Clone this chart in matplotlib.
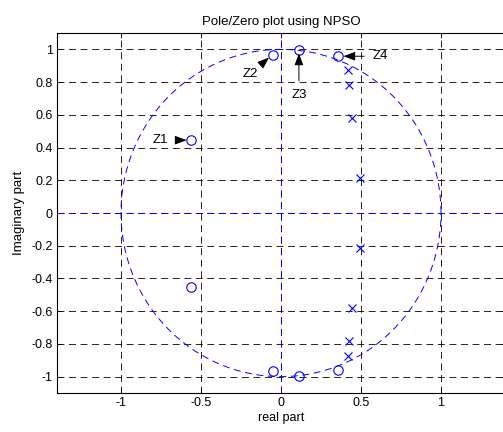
import numpy as np
import matplotlib
matplotlib.use("Agg")
import matplotlib.pyplot as plt

plt.rcParams['font.family'] = ['Liberation Sans', 'DejaVu Sans']
plt.rcParams['axes.unicode_minus'] = False
plt.rcParams['lines.scale_dashes'] = False

# Data
zeros_re = [-0.564, -0.564, -0.053, -0.053, 0.115, 0.115, 0.357, 0.357]
zeros_im = [0.445, -0.450, 0.967, -0.967, 0.998, -0.998, 0.958, -0.958]
poles_re = [0.421, 0.421, 0.424, 0.424, 0.446, 0.446, 0.491, 0.491]
poles_im = [0.873, -0.876, 0.780, -0.784, 0.580, -0.580, 0.215, -0.215]
xticks = [-1, -0.5, 0, 0.5, 1]
xticklabels = ['-1', '-0.5', '0', '0.5', '1']
yticks = [-1, -0.8, -0.6, -0.4, -0.2, 0, 0.2, 0.4, 0.6, 0.8, 1]
yticklabels = ['-1', '-0.8', '-0.6', '-0.4', '-0.2', '0', '0.2', '0.4', '0.6', '0.8', '1']
labels = ['Z1', 'Z2', 'Z3', 'Z4']
label_targets = [(-0.59, 0.445), (-0.075, 0.95), (0.112, 0.975), (0.39, 0.958)]
label_text_pos = [(-0.755, 0.445), (-0.19, 0.85), (0.112, 0.72), (0.62, 0.958)]

W, H = 503, 432
fig = plt.figure(figsize=(W / 100, H / 100), dpi=100)
ax = fig.add_axes([57 / W, 1 - 393 / H, (505 - 57) / W, (393 - 33) / H])

dash = (0, (5, 3.3))
ax.set_xlim(-1.4, 1.4)
ax.set_ylim(-1.1, 1.1)
ax.set_xticks(xticks)
ax.set_xticklabels(xticklabels)
ax.set_yticks(yticks)
ax.set_yticklabels(yticklabels)
ax.grid(True, color='black', linestyle=dash, linewidth=0.6)
ax.set_axisbelow(True)
ax.tick_params(direction='in', length=3.5, width=0.6, labelsize=9, top=True, right=True,
               pad=3)
for s in ax.spines.values():
    s.set_linewidth(0.8)

t = np.linspace(0, 2 * np.pi, 500)
ax.plot(np.cos(t), np.sin(t), color='blue', linestyle=dash, linewidth=0.7)
ax.axhline(0, color='blue', linestyle=dash, linewidth=0.7)
ax.axvline(0, color='blue', linestyle=dash, linewidth=0.7)

ax.plot(zeros_re, zeros_im, linestyle='none', marker='o', markersize=6.8,
        markerfacecolor='none', markeredgecolor='blue', markeredgewidth=0.8)
ax.plot(poles_re, poles_im, linestyle='none', marker='x', markersize=6,
        markeredgecolor='blue', markeredgewidth=0.8)

for lab, tgt, pos in zip(labels, label_targets, label_text_pos):
    ax.annotate(lab, xy=tgt, xytext=pos, fontsize=9.5, ha='center', va='center',
                arrowprops=dict(arrowstyle='-|>,head_length=0.75,head_width=0.28',
                                color='black', lw=0.7, shrinkA=4, shrinkB=0))

ax.set_title('Pole/Zero plot using NPSO', fontsize=9.5, pad=6)
ax.set_xlabel('real part', fontsize=9, labelpad=2)
ax.set_ylabel('Imaginary part', fontsize=9.5, labelpad=5)

fig.savefig('out.png', dpi=100)
